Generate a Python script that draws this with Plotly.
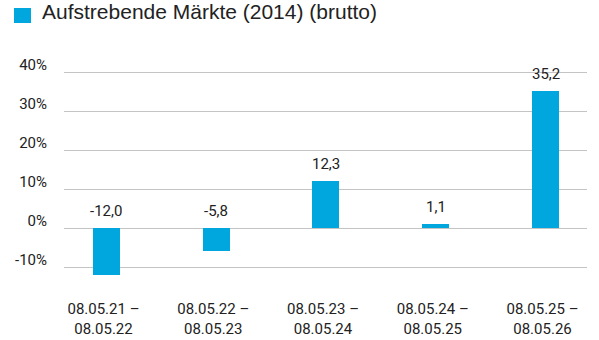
import plotly.graph_objects as go

# Periods and gross returns (%)
periods = [
    "08.05.21 –<br>08.05.22",
    "08.05.22 –<br>08.05.23",
    "08.05.23 –<br>08.05.24",
    "08.05.24 –<br>08.05.25",
    "08.05.25 –<br>08.05.26",
]
returns = [-12.0, -5.8, 12.3, 1.1, 35.2]
series_name = "Aufstrebende Märkte (2014) (brutto)"
y_ticks = [-10, 0, 10, 20, 30, 40]
y_tick_labels = [f"{v}%" for v in y_ticks]

BAR_COLOR = "#00A6DE"
TEXT_COLOR = "#222222"
GRID_COLOR = "#C4C4C4"

fig = go.Figure()
fig.add_trace(go.Bar(
    x=periods,
    y=returns,
    width=0.246,
    marker=dict(color=BAR_COLOR, line=dict(width=0)),
    showlegend=False,
    hoverinfo="skip",
))

# Value labels sit above the bar top (or above zero for negative bars)
for p, v in zip(periods, returns):
    fig.add_annotation(
        x=p, y=max(v, 0), yref="y", xref="x",
        text=f"{v:.1f}".replace(".", ","),
        showarrow=False, yanchor="bottom", yshift=6,
        font=dict(family="Roboto", size=15, color=TEXT_COLOR),
    )

# Legend: colour swatch plus series name
fig.add_shape(
    type="rect", xref="paper", yref="paper",
    x0=-0.0956, x1=-0.0631, y0=1.1963, y1=1.2664,
    fillcolor=BAR_COLOR, line=dict(width=0), layer="above",
)
fig.add_annotation(
    xref="paper", yref="paper", x=-0.046, y=1.25,
    xanchor="left", yanchor="middle", showarrow=False,
    text=series_name,
    font=dict(family="Liberation Sans", size=21, color=TEXT_COLOR),
)

fig.update_layout(
    width=599, height=340,
    margin=dict(l=64, r=12, t=65, b=61),
    paper_bgcolor="white", plot_bgcolor="white",
    bargap=0,
    xaxis=dict(
        type="category",
        range=[-0.387, 4.378],
        automargin=False,
        showgrid=False, zeroline=False, showline=False,
        ticks="",
        tickfont=dict(family="Roboto", size=15, color=TEXT_COLOR),
        ticklabelstandoff=19,
        ticklabelshift=-3,
    ),
    yaxis=dict(
        range=[-13, 42],
        automargin=False,
        tickvals=y_ticks, ticktext=y_tick_labels,
        showgrid=True, gridcolor=GRID_COLOR, gridwidth=1,
        zeroline=True, zerolinecolor=GRID_COLOR, zerolinewidth=1,
        showline=False, ticks="",
        tickfont=dict(family="Roboto", size=15, color=TEXT_COLOR),
        ticklabelstandoff=16,
        ticklabelshift=-8,
    ),
)

fig.write_html("out.html")
